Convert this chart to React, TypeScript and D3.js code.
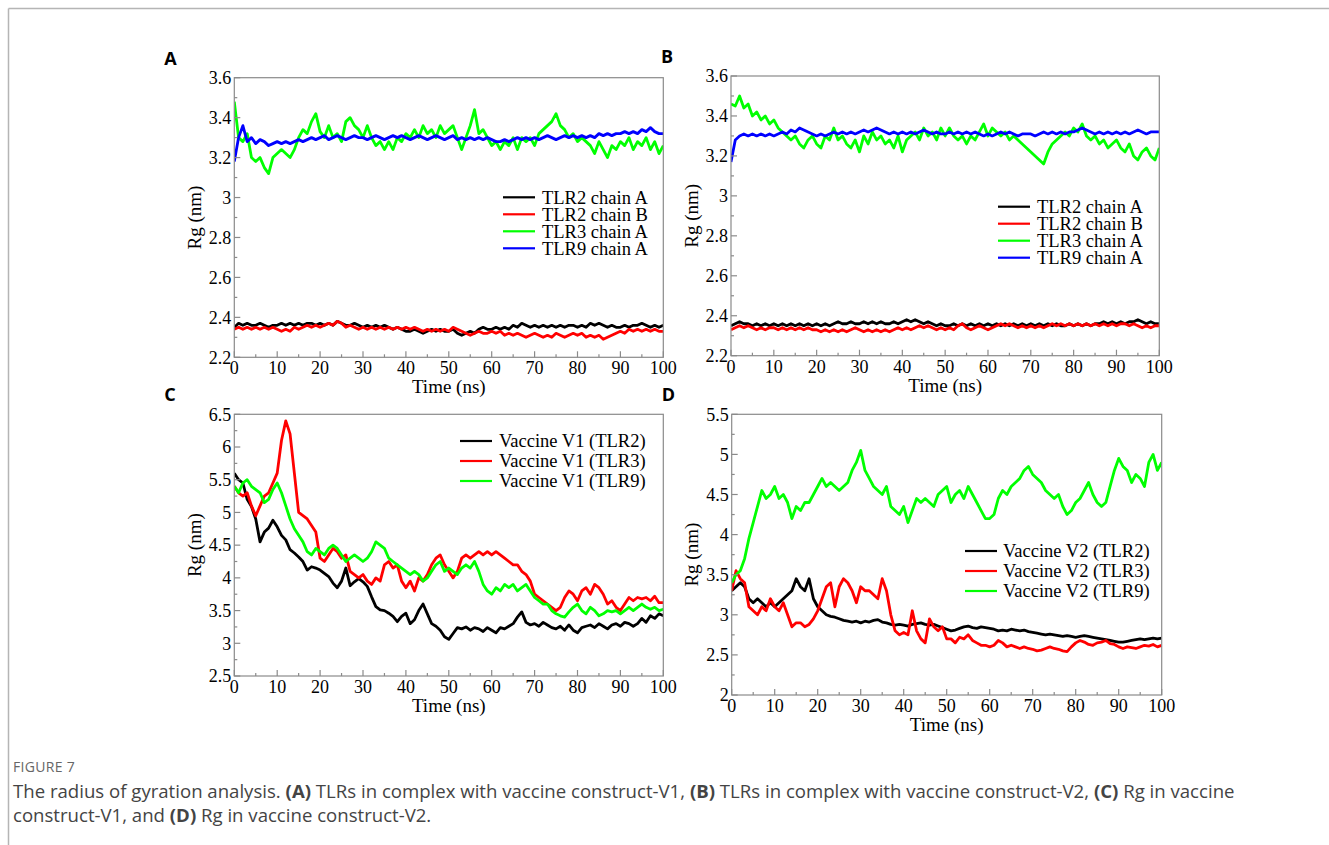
import React from 'react';
import * as d3 from 'd3';

// time axis, 1 ns steps
const TIME = d3.range(0, 101);

// Panel A
const A_TLR2_A = [
  2.35,2.37,2.36,2.37,2.36,2.36,2.37,2.36,2.35,2.36,
  2.36,2.37,2.36,2.37,2.36,2.37,2.36,2.37,2.37,2.36,
  2.37,2.36,2.37,2.36,2.38,2.37,2.36,2.36,2.37,2.36,
  2.35,2.36,2.35,2.36,2.35,2.36,2.35,2.34,2.35,2.34,
  2.33,2.33,2.34,2.33,2.32,2.33,2.34,2.33,2.34,2.33,
  2.33,2.34,2.32,2.31,2.32,2.33,2.32,2.34,2.35,2.34,
  2.34,2.35,2.34,2.35,2.34,2.36,2.35,2.37,2.36,2.35,
  2.36,2.35,2.36,2.35,2.36,2.35,2.36,2.35,2.36,2.36,
  2.35,2.36,2.35,2.37,2.36,2.37,2.36,2.35,2.36,2.35,
  2.35,2.36,2.35,2.36,2.36,2.37,2.36,2.35,2.36,2.35,
  2.36,
];
const A_TLR2_B = [
  2.34,2.35,2.34,2.35,2.34,2.35,2.34,2.35,2.34,2.35,
  2.34,2.33,2.34,2.33,2.35,2.34,2.35,2.36,2.35,2.36,
  2.35,2.36,2.37,2.36,2.38,2.37,2.35,2.36,2.35,2.34,
  2.35,2.34,2.35,2.34,2.35,2.34,2.35,2.34,2.35,2.34,
  2.35,2.34,2.35,2.34,2.33,2.34,2.33,2.34,2.33,2.34,
  2.33,2.35,2.34,2.33,2.32,2.31,2.32,2.33,2.32,2.32,
  2.33,2.32,2.33,2.31,2.32,2.31,2.32,2.31,2.30,2.31,
  2.32,2.31,2.30,2.31,2.30,2.32,2.31,2.30,2.31,2.32,
  2.31,2.32,2.30,2.31,2.30,2.31,2.29,2.30,2.31,2.32,
  2.33,2.32,2.34,2.33,2.34,2.33,2.34,2.33,2.34,2.33,
  2.33,
];
const A_TLR3_A = [
  3.48,3.30,3.28,3.32,3.20,3.18,3.20,3.15,3.12,3.20,
  3.22,3.24,3.22,3.20,3.24,3.30,3.34,3.32,3.38,3.42,
  3.33,3.30,3.36,3.30,3.32,3.28,3.38,3.40,3.36,3.34,
  3.30,3.36,3.30,3.26,3.28,3.24,3.28,3.24,3.30,3.28,
  3.32,3.30,3.34,3.30,3.36,3.32,3.34,3.30,3.36,3.32,
  3.34,3.36,3.30,3.24,3.30,3.36,3.44,3.32,3.34,3.30,
  3.26,3.28,3.24,3.28,3.26,3.30,3.24,3.30,3.28,3.30,
  3.26,3.32,3.34,3.36,3.38,3.42,3.36,3.34,3.30,3.32,
  3.28,3.30,3.28,3.26,3.22,3.28,3.24,3.20,3.26,3.24,
  3.28,3.26,3.30,3.24,3.28,3.26,3.30,3.24,3.28,3.22,
  3.26,
];
const A_TLR9_A = [
  3.18,3.30,3.36,3.28,3.30,3.27,3.29,3.28,3.26,3.27,
  3.28,3.27,3.28,3.27,3.28,3.29,3.28,3.29,3.30,3.29,
  3.30,3.31,3.29,3.30,3.31,3.30,3.29,3.30,3.31,3.30,
  3.30,3.29,3.30,3.31,3.30,3.29,3.30,3.31,3.30,3.31,
  3.30,3.29,3.30,3.31,3.30,3.29,3.30,3.31,3.30,3.29,
  3.30,3.31,3.29,3.30,3.29,3.30,3.29,3.30,3.29,3.30,
  3.29,3.28,3.28,3.29,3.28,3.29,3.30,3.29,3.30,3.29,
  3.30,3.29,3.30,3.31,3.30,3.29,3.30,3.31,3.30,3.31,
  3.30,3.31,3.30,3.31,3.30,3.32,3.31,3.32,3.31,3.32,
  3.32,3.33,3.32,3.33,3.32,3.34,3.33,3.35,3.33,3.32,
  3.32,
];

// Panel B
const B_TLR2_A = [
  2.35,2.36,2.37,2.36,2.36,2.35,2.36,2.35,2.36,2.35,
  2.36,2.35,2.36,2.35,2.36,2.35,2.36,2.35,2.36,2.35,
  2.36,2.35,2.36,2.35,2.36,2.37,2.36,2.36,2.37,2.36,
  2.36,2.37,2.36,2.37,2.36,2.37,2.36,2.36,2.37,2.36,
  2.37,2.38,2.37,2.38,2.37,2.36,2.37,2.36,2.35,2.36,
  2.35,2.35,2.36,2.35,2.36,2.35,2.36,2.35,2.36,2.35,
  2.36,2.35,2.36,2.35,2.36,2.35,2.36,2.35,2.36,2.35,
  2.36,2.35,2.36,2.35,2.36,2.35,2.36,2.35,2.35,2.36,
  2.35,2.36,2.35,2.36,2.35,2.36,2.36,2.37,2.36,2.37,
  2.36,2.37,2.36,2.37,2.37,2.38,2.37,2.36,2.37,2.36,
  2.36,
];
const B_TLR2_B = [
  2.33,2.34,2.35,2.34,2.35,2.34,2.33,2.34,2.33,2.34,
  2.34,2.33,2.34,2.33,2.34,2.33,2.34,2.33,2.34,2.33,
  2.33,2.32,2.33,2.32,2.33,2.32,2.33,2.32,2.33,2.34,
  2.33,2.32,2.33,2.32,2.33,2.32,2.33,2.32,2.33,2.34,
  2.33,2.34,2.33,2.34,2.35,2.34,2.35,2.34,2.33,2.34,
  2.33,2.34,2.33,2.35,2.36,2.34,2.33,2.34,2.35,2.34,
  2.33,2.34,2.35,2.36,2.35,2.36,2.35,2.34,2.35,2.34,
  2.35,2.34,2.35,2.34,2.35,2.36,2.35,2.36,2.35,2.36,
  2.35,2.36,2.35,2.36,2.35,2.36,2.35,2.36,2.35,2.36,
  2.35,2.36,2.36,2.35,2.36,2.35,2.34,2.35,2.34,2.35,
  2.35,
];
const B_TLR3_A = [
  3.46,3.45,3.50,3.44,3.46,3.40,3.42,3.38,3.40,3.36,
  3.38,3.34,3.32,3.30,3.28,3.30,3.26,3.24,3.28,3.30,
  3.26,3.24,3.30,3.28,3.34,3.28,3.30,3.26,3.24,3.28,
  3.22,3.30,3.26,3.32,3.28,3.30,3.26,3.28,3.24,3.30,
  3.22,3.28,3.30,3.32,3.28,3.34,3.30,3.32,3.28,3.34,
  3.30,3.34,3.30,3.28,3.30,3.26,3.30,3.28,3.32,3.36,
  3.30,3.34,3.32,3.30,3.32,3.28,3.30,3.28,3.26,3.24,
  3.22,3.20,3.18,3.16,3.22,3.26,3.28,3.30,3.32,3.30,
  3.34,3.32,3.36,3.30,3.28,3.30,3.26,3.28,3.24,3.26,
  3.28,3.24,3.22,3.26,3.20,3.18,3.22,3.24,3.20,3.18,
  3.24,
];
const B_TLR9_A = [
  3.17,3.28,3.30,3.31,3.30,3.31,3.30,3.31,3.30,3.31,
  3.30,3.31,3.32,3.31,3.33,3.32,3.34,3.33,3.32,3.31,
  3.30,3.31,3.30,3.31,3.32,3.31,3.32,3.31,3.32,3.31,
  3.32,3.33,3.32,3.33,3.34,3.33,3.32,3.31,3.32,3.31,
  3.32,3.31,3.32,3.31,3.32,3.33,3.32,3.31,3.32,3.31,
  3.31,3.32,3.31,3.32,3.31,3.32,3.31,3.32,3.31,3.30,
  3.31,3.30,3.31,3.32,3.31,3.32,3.31,3.30,3.31,3.31,
  3.31,3.30,3.31,3.32,3.31,3.32,3.31,3.32,3.31,3.32,
  3.32,3.33,3.34,3.33,3.32,3.31,3.32,3.31,3.32,3.31,
  3.32,3.31,3.32,3.31,3.32,3.33,3.32,3.31,3.32,3.32,
  3.32,
];

// Panel C
const C_V1_TLR2 = [
  5.60,5.50,5.45,5.20,5.09,4.90,4.55,4.70,4.76,4.88,
  4.78,4.65,4.58,4.43,4.38,4.32,4.25,4.12,4.17,4.15,
  4.12,4.07,4.02,3.92,3.85,3.95,4.15,3.88,3.94,3.99,
  3.94,3.87,3.71,3.56,3.51,3.50,3.46,3.41,3.33,3.41,
  3.46,3.30,3.36,3.50,3.60,3.45,3.30,3.26,3.20,3.10,
  3.06,3.15,3.24,3.22,3.25,3.20,3.24,3.22,3.18,3.24,
  3.20,3.16,3.24,3.22,3.26,3.30,3.40,3.48,3.32,3.28,
  3.30,3.26,3.32,3.28,3.24,3.22,3.26,3.20,3.28,3.20,
  3.16,3.24,3.26,3.28,3.24,3.30,3.26,3.22,3.28,3.30,
  3.26,3.32,3.30,3.26,3.30,3.38,3.32,3.42,3.38,3.45,
  3.42,
];
const C_V1_TLR3 = [
  5.40,5.30,5.25,5.30,5.10,4.95,5.10,5.25,5.30,5.45,
  5.60,6.10,6.40,6.20,5.60,5.00,4.95,4.90,4.80,4.70,
  4.30,4.25,4.35,4.45,4.40,4.30,4.35,4.10,4.05,4.00,
  4.05,3.95,3.90,4.00,3.95,4.20,4.25,4.15,4.20,3.95,
  3.85,3.95,3.80,4.00,3.95,4.05,4.20,4.30,4.35,4.20,
  4.10,4.00,4.10,4.30,4.35,4.30,4.35,4.40,4.35,4.40,
  4.35,4.40,4.35,4.30,4.25,4.20,4.20,4.10,4.05,3.95,
  3.75,3.70,3.65,3.60,3.55,3.50,3.55,3.70,3.80,3.75,
  3.65,3.80,3.85,3.75,3.90,3.85,3.75,3.60,3.65,3.55,
  3.50,3.60,3.70,3.65,3.70,3.68,3.70,3.65,3.72,3.62,
  3.62,
];
const C_V1_TLR9 = [
  5.40,5.30,5.45,5.50,5.40,5.35,5.30,5.15,5.20,5.35,
  5.45,5.30,5.10,4.90,4.75,4.65,4.55,4.40,4.35,4.45,
  4.40,4.35,4.45,4.50,4.45,4.35,4.25,4.30,4.35,4.30,
  4.25,4.30,4.40,4.55,4.50,4.45,4.30,4.25,4.20,4.15,
  4.10,4.05,4.10,4.05,3.95,4.00,4.10,4.20,4.25,4.10,
  4.15,4.10,4.05,4.15,4.20,4.15,4.25,4.10,3.90,3.80,
  3.75,3.85,3.80,3.90,3.85,3.90,3.80,3.85,3.90,3.80,
  3.70,3.65,3.60,3.60,3.50,3.45,3.42,3.40,3.48,3.55,
  3.60,3.50,3.45,3.55,3.50,3.42,3.45,3.50,3.48,3.50,
  3.45,3.50,3.55,3.50,3.55,3.60,3.55,3.52,3.55,3.50,
  3.52,
];

// Panel D
const D_V2_TLR2 = [
  3.30,3.35,3.40,3.35,3.20,3.15,3.20,3.15,3.10,3.15,
  3.10,3.15,3.20,3.25,3.30,3.45,3.35,3.30,3.45,3.20,
  3.10,3.05,3.00,2.98,2.97,2.95,2.93,2.92,2.91,2.92,
  2.90,2.92,2.91,2.93,2.94,2.91,2.90,2.88,2.87,2.88,
  2.87,2.86,2.88,2.89,2.90,2.88,2.87,2.88,2.86,2.84,
  2.82,2.80,2.81,2.83,2.85,2.86,2.84,2.83,2.85,2.84,
  2.83,2.82,2.80,2.81,2.80,2.82,2.81,2.80,2.81,2.79,
  2.78,2.77,2.76,2.75,2.76,2.75,2.74,2.73,2.74,2.73,
  2.72,2.73,2.74,2.73,2.72,2.71,2.70,2.69,2.68,2.67,
  2.66,2.66,2.67,2.68,2.69,2.70,2.69,2.70,2.71,2.70,
  2.71,
];
const D_V2_TLR3 = [
  3.30,3.55,3.45,3.40,3.10,3.05,3.00,3.10,3.05,3.20,
  3.10,3.05,3.15,3.00,2.85,2.90,2.90,2.85,2.88,2.95,
  3.05,3.20,3.35,3.40,3.10,3.35,3.45,3.40,3.30,3.15,
  3.35,3.30,3.30,3.25,3.20,3.45,3.30,3.00,2.80,2.75,
  2.78,2.75,3.05,2.80,2.70,2.65,2.95,2.85,2.80,2.85,
  2.70,2.70,2.65,2.72,2.70,2.75,2.68,2.65,2.62,2.62,
  2.60,2.62,2.68,2.65,2.60,2.62,2.60,2.58,2.60,2.58,
  2.57,2.55,2.56,2.58,2.60,2.58,2.57,2.55,2.54,2.60,
  2.65,2.68,2.66,2.63,2.62,2.65,2.66,2.68,2.64,2.63,
  2.60,2.58,2.60,2.59,2.58,2.60,2.62,2.61,2.63,2.60,
  2.62,
];
const D_V2_TLR9 = [
  3.40,3.50,3.55,3.70,3.95,4.15,4.35,4.55,4.45,4.50,
  4.60,4.45,4.50,4.40,4.20,4.35,4.30,4.40,4.40,4.50,
  4.60,4.70,4.60,4.65,4.60,4.55,4.60,4.65,4.80,4.90,
  5.05,4.80,4.70,4.60,4.55,4.50,4.60,4.35,4.30,4.25,
  4.35,4.15,4.30,4.45,4.40,4.45,4.40,4.35,4.50,4.55,
  4.60,4.40,4.50,4.55,4.45,4.60,4.50,4.40,4.30,4.20,
  4.20,4.25,4.45,4.55,4.50,4.60,4.65,4.70,4.80,4.85,
  4.75,4.70,4.65,4.55,4.50,4.45,4.50,4.35,4.25,4.30,
  4.40,4.45,4.55,4.65,4.50,4.40,4.35,4.40,4.60,4.80,
  4.95,4.85,4.80,4.65,4.75,4.70,4.60,4.90,5.00,4.80,
  4.90,
];

const LABELS_AB = ['TLR2 chain A', 'TLR2 chain B', 'TLR3 chain A', 'TLR9 chain A'];
const LABELS_C = ['Vaccine V1 (TLR2)', 'Vaccine V1 (TLR3)', 'Vaccine V1 (TLR9)'];
const LABELS_D = ['Vaccine V2 (TLR2)', 'Vaccine V2 (TLR3)', 'Vaccine V2 (TLR9)'];
const X_TICKS = [0, 10, 20, 30, 40, 50, 60, 70, 80, 90, 100];

const COLORS4 = ['#000000', '#ff0000', '#00ff00', '#0000ff'];
const COLORS3 = ['#000000', '#ff0000', '#00ff00'];

const SERIF = '"Liberation Serif", "Times New Roman", serif';
const SANS = '"Open Sans", "Noto Sans", sans-serif';

type PanelProps = {
  letter: string;
  box: { left: number; top: number; right: number; bottom: number };
  yDomain: [number, number];
  yStep: number;
  series: number[][];
  labels: string[];
  colors: string[];
  legend: { x0: number; x1: number; tx: number; y0: number; dy: number };
};

const Panel = ({ letter, box, yDomain, yStep, series, labels, colors, legend }: PanelProps) => {
  const x = d3.scaleLinear().domain([0, 100]).range([box.left, box.right]);
  const y = d3.scaleLinear().domain(yDomain).range([box.bottom, box.top]);
  const line = d3.line<number>()
    .x((d, i) => x(TIME[i]))
    .y(d => y(d));

  const nY = Math.round((yDomain[1] - yDomain[0]) / yStep);
  const yMajor = d3.range(0, nY + 1).map(i => yDomain[0] + i * yStep);
  const yMinor = d3.range(0, nY).map(i => yDomain[0] + (i + 0.5) * yStep);
  const xMinor = d3.range(5, 100, 10);
  const fmt = (v: number) => (+v.toFixed(2)).toString();
  const axisColor = '#8a8a8a';

  return (
    <g>
      <text x={box.left - 70} y={box.top - 13} fontFamily={SANS} fontWeight="bold" fontSize={18}>{letter}</text>
      <clipPath id={`clip-${letter}`}>
        <rect x={box.left} y={box.top} width={box.right - box.left} height={box.bottom - box.top} />
      </clipPath>
      <g clipPath={`url(#clip-${letter})`}>
        {series.map((s, i) => (
          <path key={i} d={line(s) || ''} fill="none" stroke={colors[i]} strokeWidth={2.8} strokeLinejoin="round" />
        ))}
      </g>
      <rect x={box.left} y={box.top} width={box.right - box.left} height={box.bottom - box.top}
        fill="none" stroke={axisColor} strokeWidth={1.2} />
      {X_TICKS.map(t => (
        <g key={'xt' + t}>
          <line x1={x(t)} x2={x(t)} y1={box.bottom} y2={box.bottom - 6} stroke={axisColor} strokeWidth={1.2} />
          <text x={x(t)} y={box.bottom + 17} textAnchor="middle" fontFamily={SERIF} fontSize={18}>{t}</text>
        </g>
      ))}
      {xMinor.map(t => (
        <line key={'xm' + t} x1={x(t)} x2={x(t)} y1={box.bottom} y2={box.bottom - 3} stroke={axisColor} strokeWidth={1.2} />
      ))}
      {yMajor.map(v => (
        <g key={'yt' + v}>
          <line x1={box.left} x2={box.left + 6} y1={y(v)} y2={y(v)} stroke={axisColor} strokeWidth={1.2} />
          <text x={box.left - 3} y={y(v)} dy="0.35em" textAnchor="end" fontFamily={SERIF} fontSize={18}>{fmt(v)}</text>
        </g>
      ))}
      {yMinor.map(v => (
        <line key={'ym' + v} x1={box.left} x2={box.left + 3} y1={y(v)} y2={y(v)} stroke={axisColor} strokeWidth={1.2} />
      ))}
      <text x={(box.left + box.right) / 2} y={box.bottom + 36} textAnchor="middle" fontFamily={SERIF} fontSize={19}>Time (ns)</text>
      <text transform={`translate(${box.left - 40},${(box.top + box.bottom) / 2}) rotate(-90)`}
        dy="0.35em" textAnchor="middle" fontFamily={SERIF} fontSize={19}>Rg (nm)</text>
      {labels.map((lab, i) => (
        <g key={lab}>
          <line x1={legend.x0} x2={legend.x1} y1={legend.y0 + i * legend.dy} y2={legend.y0 + i * legend.dy}
            stroke={colors[i]} strokeWidth={2.2} />
          <text x={legend.tx} y={legend.y0 + i * legend.dy} dy="0.35em" fontFamily={SERIF} fontSize={18.5}>{lab}</text>
        </g>
      ))}
    </g>
  );
};

export default function App() {
  return (
    <svg width={1329} height={845} style={{ position: 'absolute', left: 0, top: 0, background: '#fff' }}>
      <line x1={8.5} x2={1329} y1={8.5} y2={8.5} stroke="#b5b5b5" strokeWidth={1.5} />
      <line x1={8.5} x2={8.5} y1={8.5} y2={845} stroke="#b5b5b5" strokeWidth={1.5} />

      <Panel letter="A" box={{ left: 234.3, top: 77.7, right: 663.3, bottom: 357.3 }}
        yDomain={[2.2, 3.6]} yStep={0.2}
        series={[A_TLR2_A, A_TLR2_B, A_TLR3_A, A_TLR9_A]} labels={LABELS_AB} colors={COLORS4}
        legend={{ x0: 503, x1: 535, tx: 542, y0: 197.3, dy: 17 }} />
      <Panel letter="B" box={{ left: 731, top: 76, right: 1159.3, bottom: 355.7 }}
        yDomain={[2.2, 3.6]} yStep={0.2}
        series={[B_TLR2_A, B_TLR2_B, B_TLR3_A, B_TLR9_A]} labels={LABELS_AB} colors={COLORS4}
        legend={{ x0: 998, x1: 1030, tx: 1037, y0: 206.7, dy: 17 }} />
      <Panel letter="C" box={{ left: 234.3, top: 414.3, right: 663.3, bottom: 676 }}
        yDomain={[2.5, 6.5]} yStep={0.5}
        series={[C_V1_TLR2, C_V1_TLR3, C_V1_TLR9]} labels={LABELS_C} colors={COLORS3}
        legend={{ x0: 460, x1: 492, tx: 499, y0: 441, dy: 20 }} />
      <Panel letter="D" box={{ left: 731.7, top: 414.3, right: 1161.7, bottom: 695 }}
        yDomain={[2, 5.5]} yStep={0.5}
        series={[D_V2_TLR2, D_V2_TLR3, D_V2_TLR9]} labels={LABELS_D} colors={COLORS3}
        legend={{ x0: 965, x1: 997, tx: 1003, y0: 551, dy: 20 }} />

      <text x={13} y={772} fontFamily={SANS} fontSize={14} fill="#666" letterSpacing={0.3}>FIGURE 7</text>
      <text x={13} y={798} fontFamily={SANS} fontSize={18.6} fill="#444">
        The radius of gyration analysis. <tspan fontWeight="bold">(A)</tspan> TLRs in complex with vaccine construct-V1,{' '}
        <tspan fontWeight="bold">(B)</tspan> TLRs in complex with vaccine construct-V2, <tspan fontWeight="bold">(C)</tspan> Rg in vaccine
      </text>
      <text x={13} y={822} fontFamily={SANS} fontSize={18.6} fill="#444">
        construct-V1, and <tspan fontWeight="bold">(D)</tspan> Rg in vaccine construct-V2.
      </text>
    </svg>
  );
}
